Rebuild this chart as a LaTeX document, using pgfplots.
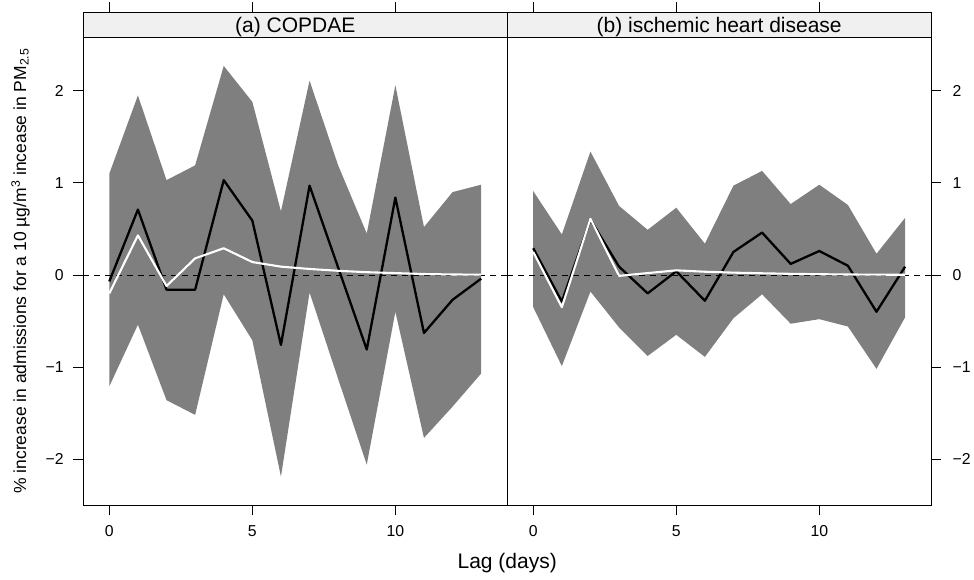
\documentclass[border=0pt]{standalone}
\usepackage{fontspec}
\setmainfont{Liberation Sans}
\usepackage{pgfplots}
\pgfplotsset{compat=1.18}
\usepackage{pgfplotstable}
\usepgfplotslibrary{fillbetween}

\definecolor{bandgrey}{RGB}{127,127,127}
\definecolor{stripgrey}{RGB}{240,240,240}

\pgfplotstableread{
lag lo est hi dlm
0 -1.21 -0.07 1.10 -0.20
1 -0.54 0.71 1.95 0.43
2 -1.36 -0.16 1.03 -0.12
3 -1.52 -0.16 1.19 0.18
4 -0.21 1.03 2.27 0.29
5 -0.71 0.59 1.88 0.14
6 -2.19 -0.76 0.69 0.09
7 -0.19 0.97 2.11 0.065
8 -1.13 0.08 1.19 0.045
9 -2.06 -0.81 0.45 0.03
10 -0.40 0.84 2.06 0.02
11 -1.77 -0.63 0.52 0.01
12 -1.43 -0.27 0.90 0.005
13 -1.07 -0.04 0.98 0.003
}\copd

\pgfplotstableread{
lag lo est hi dlm
0 -0.35 0.29 0.91 0.25
1 -0.99 -0.29 0.44 -0.35
2 -0.18 0.60 1.34 0.61
3 -0.57 0.09 0.75 -0.01
4 -0.88 -0.20 0.49 0.02
5 -0.65 0.04 0.73 0.05
6 -0.89 -0.28 0.34 0.035
7 -0.47 0.25 0.97 0.025
8 -0.21 0.46 1.13 0.018
9 -0.53 0.12 0.77 0.012
10 -0.48 0.26 0.98 0.008
11 -0.56 0.10 0.76 0.005
12 -1.02 -0.40 0.23 0.003
13 -0.46 0.09 0.62 0.002
}\ihd

\pgfplotsset{
  panel/.style={
    anchor=south west,
    scale only axis,
    width=424pt, height=493.5pt,
    xmin=-0.91, xmax=13.91,
    ymin=-2.503, ymax=2.856,
    axis on top,
    clip=false,
    tick align=outside,
    major tick length=10pt,
    xtick={0,5,10}, xticklabels={0,5,10},
    ytick={-2,-1,0,1,2}, yticklabels={−2,−1,0,1,2},
    xtick pos=both, xticklabel pos=bottom,
    tick style={black, line width=0.8pt},
    axis line style={black, line width=0.9pt},
    tick label style={font=\fontsize{15.8}{18}\selectfont, text=black},
    xticklabel style={yshift=-7pt},
  },
}

\begin{document}
\begin{tikzpicture}
\path (0pt,0pt) rectangle (974pt,580pt);

\begin{axis}[panel, at={(83.3pt,74.5pt)},
  ytick pos=left, yticklabel pos=left,
  yticklabel style={xshift=-6pt},
  xlabel={Lag (days)},
  xlabel style={at={(axis description cs:1,-0.1283)}, anchor=base, font=\fontsize{21}{24}\selectfont},
  ylabel={\% increase in admissions for a 10 µg/m\textsuperscript{3} incease in PM\textsubscript{2.5}},
  ylabel style={at={(axis description cs:-0.135,0.475)}, anchor=base, font=\fontsize{17.5}{20}\selectfont},
]
\fill[stripgrey] (rel axis cs:0,0.9493) rectangle (rel axis cs:1,1);
\draw[line width=0.9pt] (rel axis cs:0,0.9493) -- (rel axis cs:1,0.9493);
\node[anchor=base, font=\fontsize{21}{24}\selectfont] at (rel axis cs:0.5,0.9589) {(a) COPDAE};
\addplot[name path=hiA, draw=none, forget plot] table[x=lag, y=hi] {\copd};
\addplot[name path=loA, draw=none, forget plot] table[x=lag, y=lo] {\copd};
\addplot[fill=bandgrey, draw=none] fill between[of=hiA and loA];
\addplot[black, line width=0.8pt, dash pattern=on 6pt off 5pt] coordinates {(-0.91,0) (13.91,0)};
\addplot[black, line width=2.3pt, line join=round] table[x=lag, y=est] {\copd};
\addplot[white, line width=2.1pt, line join=round] table[x=lag, y=dlm] {\copd};
\end{axis}

\begin{axis}[panel, at={(507.3pt,74.5pt)},
  ytick pos=right, yticklabel pos=right,
  yticklabel style={xshift=8pt},
]
\fill[stripgrey] (rel axis cs:0,0.9493) rectangle (rel axis cs:1,1);
\draw[line width=0.9pt] (rel axis cs:0,0.9493) -- (rel axis cs:1,0.9493);
\node[anchor=base, font=\fontsize{21}{24}\selectfont] at (rel axis cs:0.5,0.9589) {(b) ischemic heart disease};
\addplot[name path=hiB, draw=none, forget plot] table[x=lag, y=hi] {\ihd};
\addplot[name path=loB, draw=none, forget plot] table[x=lag, y=lo] {\ihd};
\addplot[fill=bandgrey, draw=none] fill between[of=hiB and loB];
\addplot[black, line width=0.8pt, dash pattern=on 6pt off 5pt] coordinates {(-0.91,0) (13.91,0)};
\addplot[black, line width=2.3pt, line join=round] table[x=lag, y=est] {\ihd};
\addplot[white, line width=2.1pt, line join=round] table[x=lag, y=dlm] {\ihd};
\end{axis}
\end{tikzpicture}
\end{document}
